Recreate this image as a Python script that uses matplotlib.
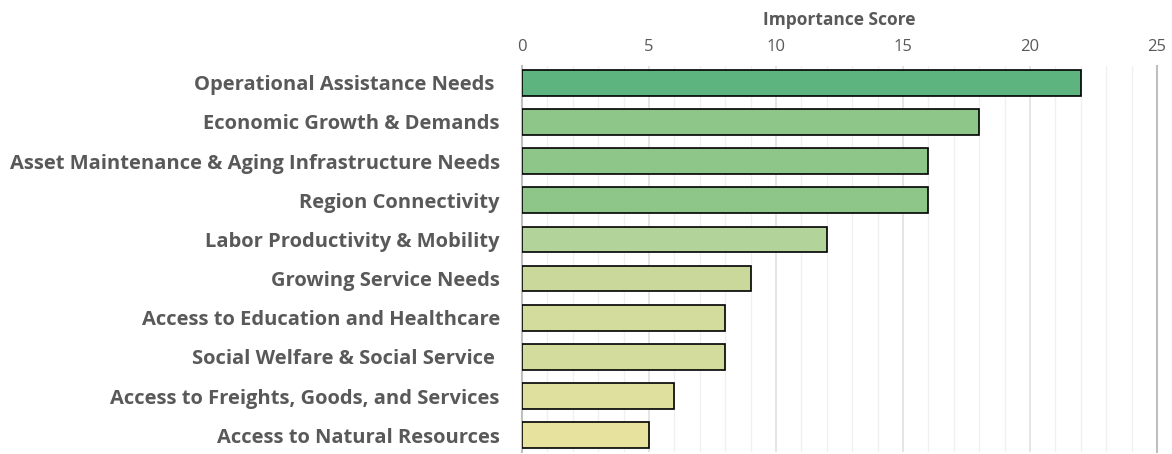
import matplotlib
matplotlib.use("Agg")
import matplotlib.pyplot as plt
from matplotlib.ticker import MultipleLocator

categories = [
    "Operational Assistance Needs ",
    "Economic Growth & Demands",
    "Asset Maintenance & Aging Infrastructure Needs",
    "Region Connectivity",
    "Labor Productivity & Mobility",
    "Growing Service Needs",
    "Access to Education and Healthcare",
    "Social Welfare & Social Service ",
    "Access to Freights, Goods, and Services",
    "Access to Natural Resources",
]
scores = [22, 18, 16, 16, 12, 9, 8, 8, 6, 5]
bar_colors = ["#5DB47E", "#8EC68A", "#8EC68A", "#8EC68A", "#B2D399",
              "#CAD99B", "#D3DC9C", "#D3DC9C", "#E0E09E", "#E8E29F"]

plt.rcParams["font.family"] = ["Open Sans", "DejaVu Sans"]
text_grey = "#595959"

fig = plt.figure(figsize=(11.72, 4.54), dpi=100)
ax = fig.add_axes([0.4454, 0.0044, 0.5418, 0.8502])

ypos = list(range(len(categories)))
ax.barh(ypos, scores, height=0.66, color=bar_colors, edgecolor="black",
        linewidth=1.2, zorder=3)

ax.set_xlim(0, 25)
ax.set_ylim(len(categories) - 0.57, -0.43)
ax.xaxis.set_major_locator(MultipleLocator(5))
ax.xaxis.set_minor_locator(MultipleLocator(1))
ax.grid(axis="x", which="major", color="#E0E0E0", linewidth=1.2, zorder=0)
ax.grid(axis="x", which="minor", color="#F0F0F0", linewidth=1.0, zorder=0)

ax.xaxis.tick_top()
ax.xaxis.set_label_position("top")
ax.tick_params(axis="x", which="both", length=0, pad=8, labelsize=12,
               labelcolor=text_grey)
ax.set_xlabel("Importance Score", fontsize=12.5, fontweight="bold",
              color=text_grey, labelpad=10)

ax.set_yticks(ypos)
ax.set_yticklabels(categories, fontsize=14.5, fontweight="bold",
                   color=text_grey)
ax.tick_params(axis="y", length=0, pad=16)

for side in ["top", "bottom"]:
    ax.spines[side].set_visible(False)
ax.spines["left"].set_color("#BFBFBF")
ax.spines["left"].set_linewidth(1.5)
ax.spines["right"].set_color("#BFBFBF")
ax.spines["right"].set_linewidth(1.5)

fig.savefig("out.png", dpi=100)
